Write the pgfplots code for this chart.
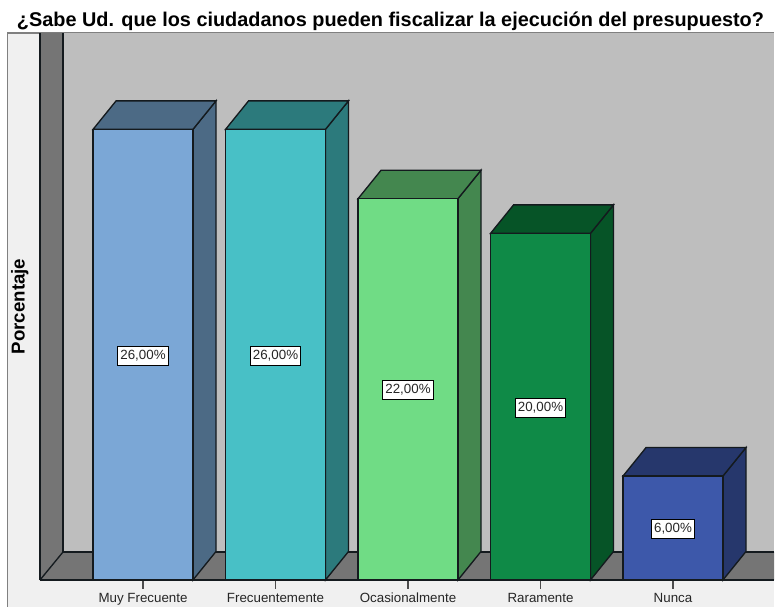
\documentclass[border=0pt]{standalone}
\usepackage{fontspec}
\setmainfont{Liberation Sans}
\usepackage{pgfplots}
\pgfplotsset{compat=1.18}
\definecolor{panel}{HTML}{F0F0F0}
\definecolor{wall}{HTML}{BEBEBE}
\definecolor{side}{HTML}{757575}
\definecolor{edge}{HTML}{141A1E}
\definecolor{fa}{HTML}{7BA7D6}\definecolor{sa}{HTML}{4C6A85}
\definecolor{fb}{HTML}{48C0C6}\definecolor{sb}{HTML}{2C7A7C}
\definecolor{fc}{HTML}{70DC85}\definecolor{sc}{HTML}{44874F}
\definecolor{fd}{HTML}{0F8A47}\definecolor{sd}{HTML}{065427}
\definecolor{fe}{HTML}{3D58AA}\definecolor{se}{HTML}{26376C}
\tikzset{vlab/.style={draw=black,fill=white,line width=0.5pt,inner xsep=2pt,inner ysep=3pt,font=\fontsize{10}{12}\selectfont,text=black!85,yshift=-0.6pt}}
\begin{document}
\begin{tikzpicture}
\path[use as bounding box] (-30pt,-19.5pt) rectangle (552.75pt,435pt);
\begin{scope}[x=.75pt,y=-.75pt,shift={(-40,-579)}]
\fill[panel] (7,32) rectangle (774,607);
\draw[gray,line width=1pt] (7.5,607) -- (7.5,32) -- (774,32);
\fill[wall] (63,32) rectangle (774,551);
\fill[side] (40,32) -- (63,32) -- (63,551) -- (40,579) -- cycle;
\fill[side] (40,579) -- (63,551) -- (774,551) -- (774,579) -- cycle;
\draw[edge,line width=1pt] (63,32) -- (63,551) -- (774,551);
\draw[edge,line width=1pt] (63,551) -- (40,579);
\end{scope}
\begin{axis}[
  scale only axis, width=550.5pt, height=410.25pt,
  xmin=-0.7774, xmax=4.7623, ymin=0, ymax=31.56,
  clip=false,
  axis x line=bottom, axis y line=left,
  axis line style={-,line width=1pt,color=edge},
  xtick={0,1,2,3,4},
  xticklabels={Muy Frecuente,Frecuentemente,Ocasionalmente,Raramente,Nunca},
  ytick=\empty,
  xtick align=outside, major tick length=6.5pt,
  xtick style={draw=black!70,line width=0.8pt},
  tick label style={font=\fontsize{10}{12}\selectfont,text=black!85},
  xticklabel style={text height=7.5pt,text depth=2pt,yshift=1pt},
  ylabel={\textbf{Porcentaje}},
  ylabel style={font=\fontsize{14}{16}\selectfont,at={(axis description cs:0,0.5)},anchor=south,yshift=5pt},
  title={\textbf{¿Sabe Ud. que los ciudadanos pueden fiscalizar la ejecución del presupuesto?}},
  title style={font=\fontsize{14.9}{17}\selectfont,at={(axis description cs:0.5,1)},anchor=south,xshift=-12.4pt,yshift=-7.5pt},
]
% Bar 1: 26
\addplot[fill=sa,draw=edge,line width=1pt] coordinates {(0.377,0)(0.551,1.645)(0.551,27.645)(0.377,26)} -- cycle;
\addplot[fill=sa,draw=edge,line width=1pt] coordinates {(-0.377,26)(-0.203,27.645)(0.551,27.645)(0.377,26)} -- cycle;
\addplot[ybar,bar shift=0pt,bar width=0.7547,fill=fa,draw=edge,line width=1pt] coordinates {(0,26)};
% Bar 2: 26
\addplot[fill=sb,draw=edge,line width=1pt] coordinates {(1.377,0)(1.551,1.645)(1.551,27.645)(1.377,26)} -- cycle;
\addplot[fill=sb,draw=edge,line width=1pt] coordinates {(0.623,26)(0.797,27.645)(1.551,27.645)(1.377,26)} -- cycle;
\addplot[ybar,bar shift=0pt,bar width=0.7547,fill=fb,draw=edge,line width=1pt] coordinates {(1,26)};
% Bar 3: 22
\addplot[fill=sc,draw=edge,line width=1pt] coordinates {(2.377,0)(2.551,1.645)(2.551,23.645)(2.377,22)} -- cycle;
\addplot[fill=sc,draw=edge,line width=1pt] coordinates {(1.623,22)(1.797,23.645)(2.551,23.645)(2.377,22)} -- cycle;
\addplot[ybar,bar shift=0pt,bar width=0.7547,fill=fc,draw=edge,line width=1pt] coordinates {(2,22)};
% Bar 4: 20
\addplot[fill=sd,draw=edge,line width=1pt] coordinates {(3.377,0)(3.551,1.645)(3.551,21.645)(3.377,20)} -- cycle;
\addplot[fill=sd,draw=edge,line width=1pt] coordinates {(2.623,20)(2.797,21.645)(3.551,21.645)(3.377,20)} -- cycle;
\addplot[ybar,bar shift=0pt,bar width=0.7547,fill=fd,draw=edge,line width=1pt] coordinates {(3,20)};
% Bar 5: 6
\addplot[fill=se,draw=edge,line width=1pt] coordinates {(4.377,0)(4.551,1.645)(4.551,7.645)(4.377,6)} -- cycle;
\addplot[fill=se,draw=edge,line width=1pt] coordinates {(3.623,6)(3.797,7.645)(4.551,7.645)(4.377,6)} -- cycle;
\addplot[ybar,bar shift=0pt,bar width=0.7547,fill=fe,draw=edge,line width=1pt] coordinates {(4,6)};
\node[vlab] at (axis cs:0,13) {26,00\%};
\node[vlab] at (axis cs:1,13) {26,00\%};
\node[vlab] at (axis cs:2,11) {22,00\%};
\node[vlab] at (axis cs:3,10) {20,00\%};
\node[vlab] at (axis cs:4,3) {6,00\%};
\end{axis}
\end{tikzpicture}
\end{document}
